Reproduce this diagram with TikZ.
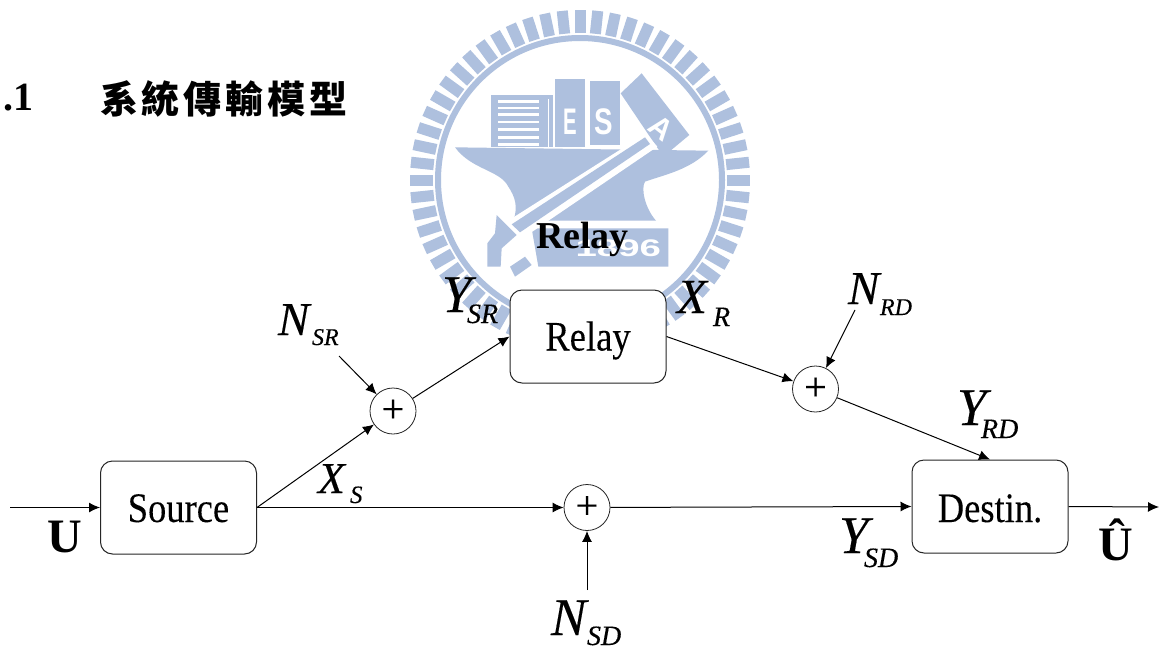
\documentclass[tikz,border=0pt]{standalone}
\usepackage{fontspec}
\setmainfont{Liberation Serif}[UprightFeatures={FakeBold=0.12},ItalicFeatures={FakeBold=0.25}]
\newfontfamily\cjkfont{Noto Sans CJK TC}
\newfontfamily\logofont{Liberation Sans}
\usetikzlibrary{arrows.meta}
\definecolor{logo}{HTML}{AEC0DE}
\newcommand{\fsz}[1]{\fontsize{#1}{#1}\selectfont}
\newcommand{\lab}[6]{\makebox[#3pt][l]{\fsz{#1}\itshape #2}\raisebox{-#6pt}{\fsz{#4}\itshape #5}}
\newcommand{\sq}[2]{\raisebox{0pt}[#1pt][0pt]{\scalebox{.87}[1]{\fsz{42}#2}}}
\tikzset{
  conn/.style={draw=black,line width=1pt,-{Latex[length=11pt,width=10pt]}},
  blockbox/.style={draw=black!85,line width=1pt,fill=white,rounded corners=12pt,minimum width=156pt,minimum height=93pt,inner sep=0pt},
  sumnode/.style={draw=black!85,line width=.8pt,fill=white,circle,minimum size=46pt,inner sep=0pt,font=\fsz{40}},
  txt/.style={anchor=base west,inner sep=0pt,outer sep=0pt,text=black},
  logotext/.style={inner sep=0pt,text=white,font=\logofont\bfseries},
}
\begin{document}
\begin{tikzpicture}[x=1pt,y=-1pt]
\useasboundingbox (0,0) rectangle (1159,648);
\fill[white] (0,0) rectangle (1159,648);
% watermark
\begin{scope}[shift={(580,180)}]
  \foreach \a in {0,6,...,354}{
    \draw[logo,line width=11pt] (\a:147) -- (\a:170);
  }
  \draw[logo,line width=6pt] (0,0) circle (142);
\end{scope}
\begin{scope}[shift={(400,0)},x=.33333pt,y=-.33333pt]
  % books
  \fill[logo] (272,285) rectangle (445,440);
  \fill[logo] (445,285) rectangle (460,296);
  \fill[logo] (447,296) rectangle (460,440);
  \foreach \yy in {300,320,340,362,385,408,430}{\fill[white] (295,\yy) rectangle (418,\yy+8);}
  \fill[logo] (465,237) rectangle (555,440);
  \fill[logo] (570,243) rectangle (660,435);
  \fill[logo] (662,280) -- (725,220) -- (868,405) -- (790,470) -- cycle;
  % anvil
  \fill[logo] (165,442) -- (925,452) .. controls (870,510) and (790,525) .. (735,545) .. controls (722,565) and (735,625) .. (768,662)
     -- (340,662) .. controls (355,620) and (345,590) .. (325,560) .. controls (300,510) and (215,510) .. (165,442) -- cycle;
  % plate
  \fill[logo] (395,685) -- (805,685) -- (805,800) -- (415,800) -- cycle;
  % hammer
  \fill[white] (315,668) -- (738,400) -- (772,440) -- (372,712) -- cycle;
  \fill[logo] (335,673) -- (735,412) -- (750,432) -- (360,697) -- cycle;
  \fill[logo] (290,645) -- (350,705) -- (305,745) -- (302,800) -- (262,800) -- (262,730) -- (285,700) -- cycle;
  \fill[logo] (330,800) -- (375,770) -- (395,795) -- (345,830) -- cycle;
  \node[logotext] (logoe) at (510,365) {\scalebox{.55}[1]{\fsz{37}E}};
  \node[logotext] (logos) at (612,365) {\scalebox{.75}[1]{\fsz{37}S}};
  \node[logotext,rotate=-38] (logoa) at (785,385) {\fsz{30}A};
  \node[logotext] (logoyear) at (655,745) {\scalebox{1.6}[1]{\fsz{24}1896}};
\end{scope}
% heading
\node[txt] (num) at (3,110) {\fsz{40}\bfseries .1};
\node[txt] (title) at (100,113) {\cjkfont\fsz{38}\bfseries 系\hspace{4pt}統\hspace{4pt}傳\hspace{4pt}輸\hspace{4pt}模\hspace{4pt}型};
\node[txt] (relaytop) at (536,248) {\fsz{38}\bfseries Relay};
% blocks
\node[blockbox] (source) at (178.5,507.5) {\sq{29}{Source}};
\node[blockbox] (relay) at (588,336.5) {\sq{28}{Relay}};
\node[blockbox] (destin) at (990,506.5) {\sq{31}{Destin.}};
\node[sumnode] (sr) at (393,411) {+};
\node[sumnode] (rd) at (815.5,389) {+};
\node[sumnode] (sd) at (587,507.5) {+};
% free ends
\coordinate (uin) at (10,507.5);
\coordinate (uout) at (1159,507);
\coordinate (nsrend) at (339,356);
\coordinate (nrdend) at (855,310);
\coordinate (nsdend) at (587,590);
% connectors
\draw[conn] (uin) -- (source.west);
\draw[conn] (source.east) -- (sr);
\draw[conn] (source.east) -- (sd);
\draw[conn] (sd) -- (destin.west);
\draw[conn] (sr) -- (relay.west);
\draw[conn] (relay.east) -- (rd);
\draw[conn] (rd) -- (destin.north);
\draw[conn] (destin.east) -- (uout);
\draw[conn] (nsrend) -- (sr);
\draw[conn] (nrdend) -- (rd);
\draw[conn] (nsdend) -- (sd);
% labels
\node[txt] (lnsr) at (278,335) {\lab{47}{N}{34}{24}{SR}{10}};
\node[txt] (lnrd) at (848,304) {\lab{47}{N}{32}{24}{RD}{11}};
\node[txt] (lnsd) at (551,635) {\lab{53}{N}{36}{28}{SD}{10}};
\node[txt] (lysr) at (442,312) {\lab{53}{Y}{25}{28}{SR}{11}};
\node[txt] (lxr) at (677,313) {\lab{49}{X}{36}{28}{R}{13}};
\node[txt] (lxs) at (318,493) {\lab{44}{X}{32}{25}{S}{10}};
\node[txt] (lyrd) at (957,425) {\lab{53}{Y}{24}{28}{RD}{13}};
\node[txt] (lysd) at (839,553) {\lab{53}{Y}{25}{28}{SD}{14}};
\node[txt] (lu) at (47,552) {\fsz{48}\bfseries U};
\node[txt] (luh) at (1098,560) {\fsz{48}\bfseries Û};
\end{tikzpicture}
\end{document}
